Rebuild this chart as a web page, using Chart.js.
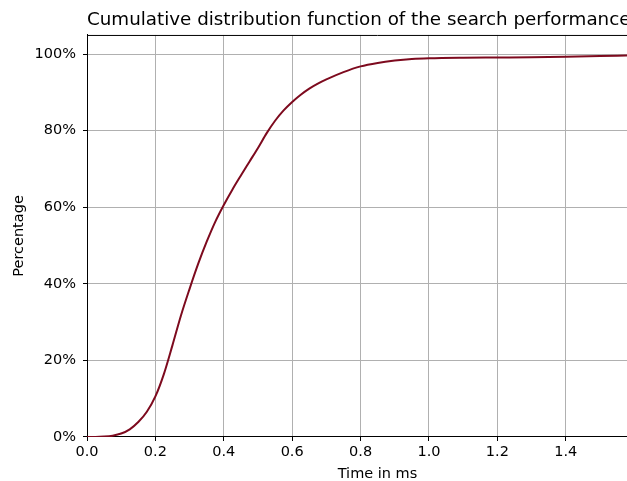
<!DOCTYPE html>
<html>
<head>
<meta charset="utf-8">
<script src="https://cdn.jsdelivr.net/npm/chart.js@4/dist/chart.umd.min.js"></script>
<style>
  html, body { margin: 0; padding: 0; background: #fff; overflow: hidden; }
  #wrap { width: 668px; height: 481px; position: relative; }
</style>
</head>
<body>
<div id="wrap"><canvas id="cdf"></canvas></div>
<script>
// ── Data ──
const timeMs  = [0, 0.025, 0.05, 0.075, 0.1, 0.125, 0.15, 0.175, 0.2, 0.225, 0.25, 0.275,
                 0.3, 0.325, 0.35, 0.375, 0.4, 0.425, 0.45, 0.475, 0.5, 0.525, 0.55, 0.575,
                 0.6, 0.625, 0.65, 0.675, 0.7, 0.75, 0.8, 0.85, 0.9, 0.95, 1.0,
                 1.1, 1.2, 1.3, 1.4, 1.5, 1.6];
const percent = [0, 0, 0.1, 0.35, 0.9, 2.0, 3.9, 6.6, 10.6, 16.5, 24.0, 31.8,
                 38.7, 45.2, 51.0, 56.2, 60.6, 64.6, 68.3, 71.9, 75.5, 79.3, 82.6, 85.3,
                 87.5, 89.4, 91.0, 92.3, 93.4, 95.3, 96.8, 97.7, 98.3, 98.7, 98.9,
                 99.05, 99.1, 99.15, 99.3, 99.5, 99.7];
const xTicks = [0, 0.2, 0.4, 0.6, 0.8, 1.0, 1.2, 1.4];
const yTicks = [0, 20, 40, 60, 80, 100];

const LINE_COLOR = "#7d0a1e";
const GRID = "#b0b0b0";
const FONT = "DejaVu Sans";

// top spine (matplotlib frame); right spine sits outside the window
const frame = {
  id: "frame",
  afterDraw(c) {
    const { ctx, chartArea: a } = c;
    ctx.save();
    ctx.strokeStyle = "#000";
    ctx.lineWidth = 1;
    ctx.beginPath();
    ctx.moveTo(a.left, a.top + 0.5);
    ctx.lineTo(a.right, a.top + 0.5);
    ctx.stroke();
    ctx.restore();
  }
};

new Chart(document.getElementById("cdf"), {
  type: "line",
  data: {
    datasets: [{
      data: timeMs.map((t, i) => ({ x: t, y: percent[i] })),
      borderColor: LINE_COLOR,
      borderWidth: 2,
      pointRadius: 0,
      fill: false,
      cubicInterpolationMode: "monotone"
    }]
  },
  options: {
    responsive: true,
    maintainAspectRatio: false,
    animation: false,
    layout: { padding: 0 },
    plugins: {
      legend: { display: false },
      tooltip: { enabled: false },
      title: {
        display: true,
        text: "Cumulative distribution function of the search performance",
        align: "start",
        fullSize: false,
        color: "#000",
        font: { family: FONT, size: 18.3, weight: "normal", lineHeight: 1.2 },
        padding: { top: 9, bottom: 4 }
      }
    },
    scales: {
      x: {
        type: "linear",
        min: 0,
        max: 1.699,
        afterBuildTicks: s => { s.ticks = xTicks.map(v => ({ value: v })); },
        afterFit: s => { s.height = 44; },
        ticks: {
          color: "#000",
          font: { family: FONT, size: 14.5 },
          padding: 3,
          maxRotation: 0,
          autoSkip: false,
          callback: v => v.toFixed(1)
        },
        grid: { color: GRID, lineWidth: 1, tickColor: "#000", tickLength: 4 },
        border: { color: "#000", width: 1 },
        title: {
          display: true,
          text: "Time in ms",
          color: "#000",
          font: { family: FONT, size: 14.5 },
          padding: { top: 0, bottom: -2 }
        }
      },
      y: {
        min: 0,
        max: 105,
        afterBuildTicks: s => { s.ticks = yTicks.map(v => ({ value: v })); },
        afterFit: s => { s.width = 87; },
        ticks: {
          color: "#000",
          font: { family: FONT, size: 14.5 },
          padding: 7,
          callback: v => v + "%"
        },
        grid: { color: GRID, lineWidth: 1, tickColor: "#000", tickLength: 4 },
        border: { color: "#000", width: 1 },
        title: {
          display: true,
          text: "Percentage",
          color: "#000",
          font: { family: FONT, size: 14.5 },
          padding: { top: 11, bottom: 0 }
        }
      }
    }
  },
  plugins: [frame]
});
</script>
</body>
</html>
